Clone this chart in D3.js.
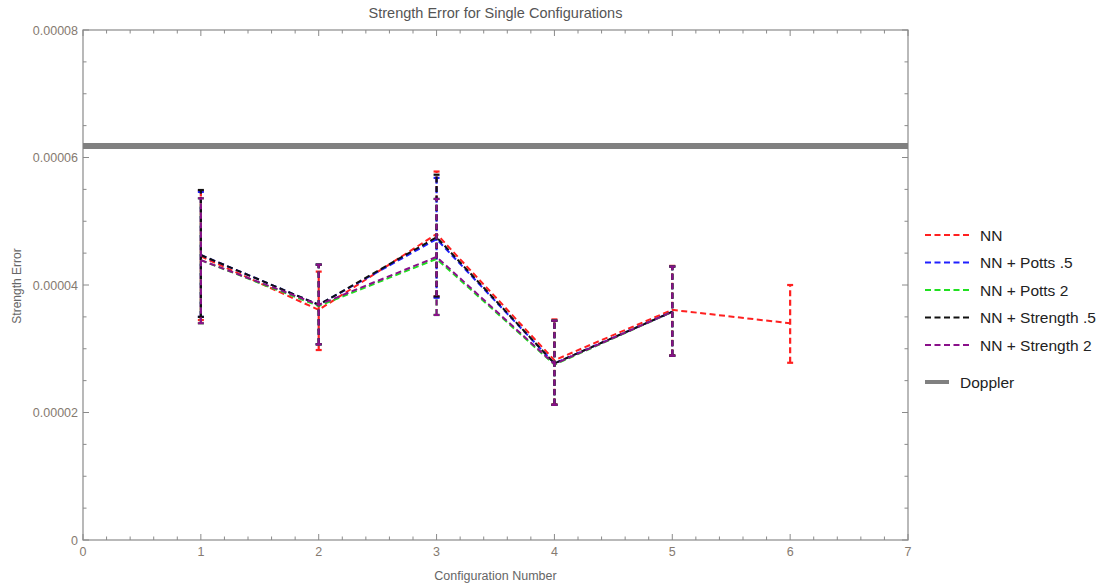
<!DOCTYPE html>
<html>
<head>
<meta charset="utf-8">
<style>
  body { margin: 0; background: #fff; }
  text { font-family: "Liberation Sans", Arial, sans-serif; }
</style>
</head>
<body>
<div id="chart"></div>
<script src="https://d3js.org/d3.v7.min.js"></script>
<script>
    // values (units of 1e-6)
    var configs = [1, 2, 3, 4, 5, 6];
    var seriesNames = ["NN", "NN + Potts .5", "NN + Potts 2", "NN + Strength .5", "NN + Strength 2"];
    var seriesColors = ["#ff2020", "#2020ff", "#20e020", "#111111", "#8a108a"];

    var nnMean   = [44.5, 36.1, 48.0, 28.2, 36.1, 34.0];
    var nnLow    = [34.5, 29.8, 38.2, 21.3, 29.0, 27.8];
    var nnHigh   = [54.8, 42.1, 57.8, 34.6, 43.0, 40.0];

    var pottsHalfMean = [44.7, 36.9, 47.2, 27.7, 35.8];
    var pottsHalfLow  = [35.0, 30.7, 38.0, 21.2, 28.9];
    var pottsHalfHigh = [54.6, 43.2, 56.8, 34.4, 42.9];

    var potts2Mean = [43.9, 36.7, 44.1, 27.5, 35.8];
    var potts2Low  = [34.0, 30.7, 35.3, 21.2, 28.9];
    var potts2High = [53.6, 43.2, 53.5, 34.4, 42.9];

    var strHalfMean = [44.7, 36.9, 47.5, 27.7, 35.8];
    var strHalfLow  = [35.0, 30.7, 38.2, 21.2, 28.9];
    var strHalfHigh = [54.9, 43.2, 57.3, 34.4, 42.9];

    var str2Mean = [43.9, 36.9, 44.4, 27.6, 35.8];
    var str2Low  = [34.0, 30.7, 35.3, 21.2, 28.9];
    var str2High = [53.6, 43.2, 53.5, 34.4, 42.9];

    var doppler = 61.8;

    var yTickLabels = ["0", "0.00002", "0.00004", "0.00006", "0.00008"];

    var allMeans = [nnMean, pottsHalfMean, potts2Mean, strHalfMean, str2Mean];
    var allLows = [nnLow, pottsHalfLow, potts2Low, strHalfLow, str2Low];
    var allHighs = [nnHigh, pottsHalfHigh, potts2High, strHalfHigh, str2High];

    var width = 1107, height = 586;
    var margin = {left: 83, right: 199, top: 30, bottom: 46};

    var svg = d3.select("#chart").append("svg")
        .attr("width", width)
        .attr("height", height);

    var x = d3.scaleLinear().domain([0, 7]).range([margin.left, width - margin.right]);
    var y = d3.scaleLinear().domain([0, 80]).range([height - margin.bottom, margin.top]);

    var axisColor = "#8a8a8a";
    var labelColor = "#857a70";

    // frame
    svg.append("rect")
        .attr("x", x(0)).attr("y", y(80))
        .attr("width", x(7) - x(0)).attr("height", y(0) - y(80))
        .attr("fill", "none").attr("stroke", axisColor).attr("stroke-width", 1.2);

    // ticks (inward), minor and major
    var tk = svg.append("g").attr("stroke", axisColor).attr("stroke-width", 1);
    x.ticks(35).forEach(function(v) {
        var major = Math.abs(v - Math.round(v)) < 1e-9;
        var len = major ? 6 : 3.5;
        tk.append("line").attr("x1", x(v)).attr("x2", x(v)).attr("y1", y(0)).attr("y2", y(0) - len);
        tk.append("line").attr("x1", x(v)).attr("x2", x(v)).attr("y1", y(80)).attr("y2", y(80) + len);
    });
    d3.range(0, 81, 5).forEach(function(v) {
        var major = v % 20 === 0;
        var len = major ? 6 : 3.5;
        tk.append("line").attr("y1", y(v)).attr("y2", y(v)).attr("x1", x(0)).attr("x2", x(0) + len);
        tk.append("line").attr("y1", y(v)).attr("y2", y(v)).attr("x1", x(7)).attr("x2", x(7) - len);
    });

    // tick labels
    d3.range(0, 8).forEach(function(v) {
        svg.append("text").attr("x", x(v)).attr("y", y(0) + 16)
            .attr("text-anchor", "middle").attr("font-size", 12.5).attr("fill", labelColor)
            .text(v);
    });
    yTickLabels.forEach(function(t, i) {
        svg.append("text").attr("x", x(0) - 5).attr("y", y(i * 20) + 4.5)
            .attr("text-anchor", "end").attr("font-size", 12.5).attr("fill", labelColor)
            .text(t);
    });

    // titles
    svg.append("text").attr("x", (x(0) + x(7)) / 2).attr("y", 18)
        .attr("text-anchor", "middle").attr("font-size", 14.5).attr("fill", "#555")
        .text("Strength Error for Single Configurations");
    svg.append("text").attr("x", (x(0) + x(7)) / 2).attr("y", 580)
        .attr("text-anchor", "middle").attr("font-size", 12.5).attr("fill", "#666")
        .text("Configuration Number");
    svg.append("text").attr("transform", "translate(21," + (y(40) + 1) + ") rotate(-90)")
        .attr("text-anchor", "middle").attr("font-size", 12).attr("fill", "#666")
        .text("Strength Error");

    // doppler line
    svg.append("line")
        .attr("x1", x(0)).attr("x2", x(7)).attr("y1", y(doppler)).attr("y2", y(doppler))
        .attr("stroke", "#808080").attr("stroke-width", 6);

    // series
    var line = d3.line().x(function(d) { return x(d.c); }).y(function(d) { return y(d.v); });
    var plot = svg.append("g");

    allMeans.forEach(function(means, s) {
        var col = seriesColors[s];
        var pts = means.map(function(v, i) {
            return {c: configs[i], v: v, lo: allLows[s][i], hi: allHighs[s][i]};
        });
        var g = plot.append("g");
        g.append("path").datum(pts)
            .attr("d", line)
            .attr("fill", "none").attr("stroke", col)
            .attr("stroke-width", 2).attr("stroke-dasharray", "6,3.5");
        var eb = g.selectAll(".eb").data(pts).enter().append("g");
        eb.append("line")
            .attr("x1", function(d) { return x(d.c); }).attr("x2", function(d) { return x(d.c); })
            .attr("y1", function(d) { return y(d.lo); }).attr("y2", function(d) { return y(d.hi); })
            .attr("stroke", col).attr("stroke-width", 2.2).attr("stroke-dasharray", "6,3.5");
        ["lo", "hi"].forEach(function(k) {
            eb.append("line")
                .attr("x1", function(d) { return x(d.c) - 3; }).attr("x2", function(d) { return x(d.c) + 3; })
                .attr("y1", function(d) { return y(d[k]); }).attr("y2", function(d) { return y(d[k]); })
                .attr("stroke", col).attr("stroke-width", 2.2);
        });
    });

    // legend
    var leg = svg.append("g").attr("transform", "translate(925,235)");
    seriesNames.forEach(function(name, i) {
        var row = leg.append("g").attr("transform", "translate(0," + (i * 27.5) + ")");
        row.append("line").attr("x1", 0).attr("x2", 47).attr("y1", 0).attr("y2", 0)
            .attr("stroke", seriesColors[i]).attr("stroke-width", 2).attr("stroke-dasharray", "6,3.5");
        row.append("text").attr("x", 55).attr("y", 5.5).attr("font-size", 15.5).attr("fill", "#222")
            .text(name);
    });
    var dl = leg.append("g").attr("transform", "translate(0,147)");
    dl.append("line").attr("x1", 0).attr("x2", 24).attr("y1", 0).attr("y2", 0)
        .attr("stroke", "#808080").attr("stroke-width", 4);
    dl.append("text").attr("x", 35).attr("y", 5.5).attr("font-size", 15.5).attr("fill", "#222")
        .text("Doppler");
</script>
</body>
</html>
